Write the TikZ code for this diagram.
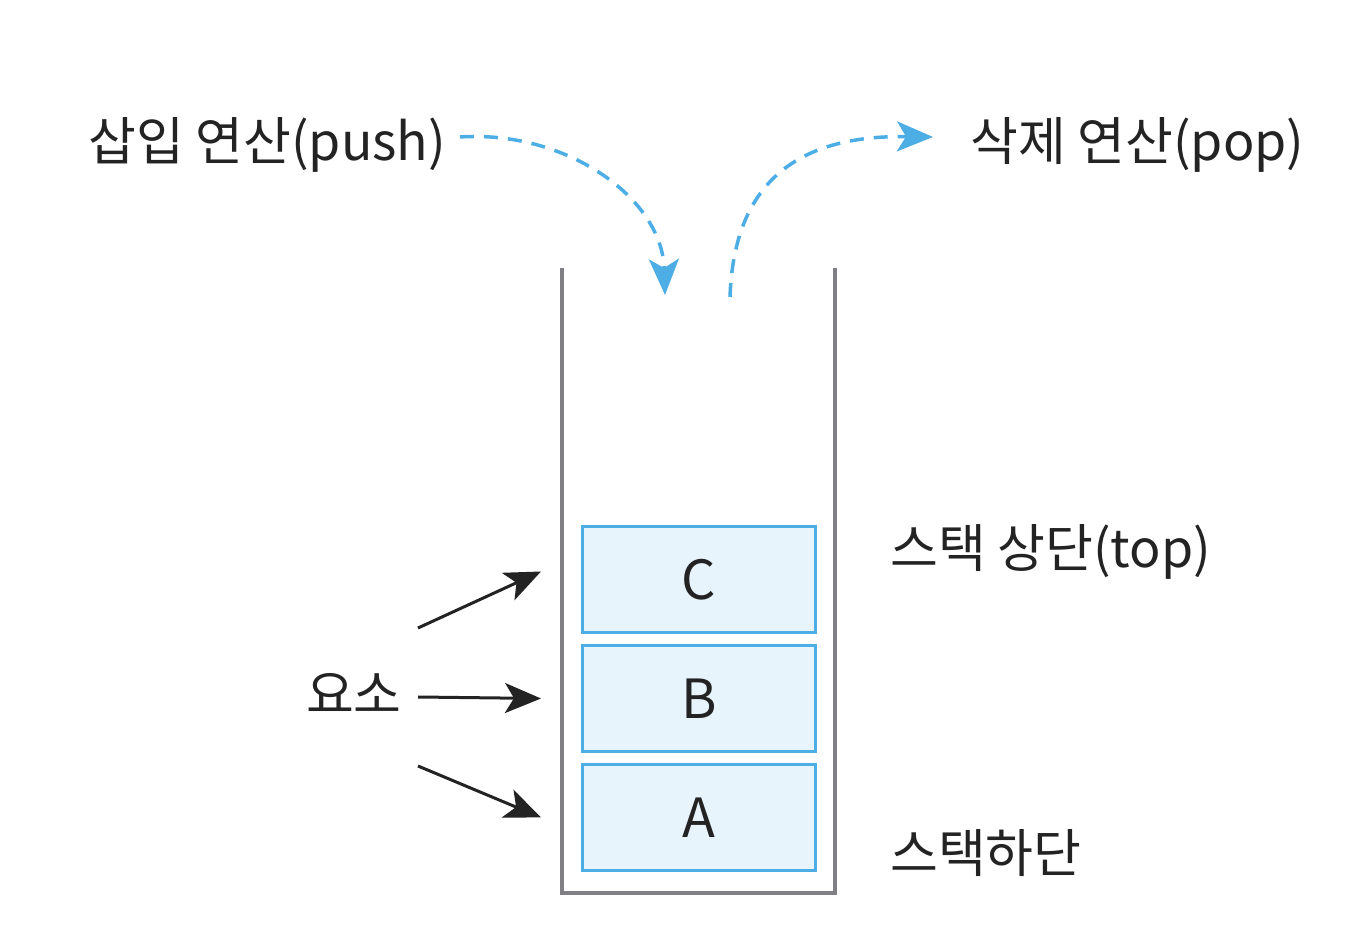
\documentclass[tikz,border=0pt]{standalone}
\usepackage{fontspec}
\setmainfont{Noto Sans CJK KR}
\usetikzlibrary{arrows.meta, positioning, calc}
\definecolor{skyblue}{RGB}{77,174,230}
\definecolor{paleblue}{RGB}{232,244,252}
\definecolor{wallgray}{RGB}{128,128,132}
\definecolor{ink}{RGB}{35,35,35}

\tikzset{
  elem/.style={draw=skyblue, fill=paleblue, line width=3pt, minimum width=233pt, minimum height=106pt, inner sep=0pt, font=\fontsize{54}{60}\selectfont, text=ink},
  lbl/.style={anchor=base west, inner sep=0pt, font=\fontsize{52}{60}\selectfont, text=ink},
  op/.style={skyblue, line width=3.5pt, dash pattern=on 14pt off 10pt, -{Stealth[length=36pt,width=30pt,inset=9pt]}},
  ptr/.style={ink, line width=3pt, -{Stealth[length=36pt,width=30pt,inset=9pt]}}
}

\begin{document}
\begin{tikzpicture}[x=1pt,y=1pt]
\useasboundingbox (0,0) rectangle (1358,932);
% stack walls
\draw[wallgray, line width=4pt] (562,664) -- (562,39) -- (835,39) -- (835,664);
% elements
\node[elem] (C) at (699,352.5) {C};
\node[elem, below=10pt of C] (B) {B};
\node[elem, below=10pt of B] (A) {A};
% labels
\node[lbl] (push) at (88,771) {삽입 연산(push)};
\node[lbl] (pop) at (970,771) {삭제 연산(pop)};
\node[lbl] (top) at (890,364) {스택 상단(top)};
\node[lbl] (bottom) at (890,59) {스택하단};
\node[lbl, anchor=base east] (elemlbl) at (402,218) {요소};
% push / pop
\coordinate (pushout) at (460,795);
\coordinate (pushin) at (665,637);
\coordinate (popout) at (730,635);
\coordinate (popin) at (933,795);
\draw[op] (pushout) .. controls (565,802) and (662,735) .. (pushin);
\draw[op] (popout) .. controls (734,752) and (800,797) .. (popin);
% pointers to the elements
\coordinate (e1) at (418,304);
\coordinate (e2) at (418,235);
\coordinate (e3) at (418,166);
\coordinate (t1) at ($(C.west)+(-40,8)$);
\coordinate (t2) at ($(B.west)+(-40,0)$);
\coordinate (t3) at ($(A.west)+(-40,0)$);
\draw[ptr] (e1) -- (t1);
\draw[ptr] (e2) -- (t2);
\draw[ptr] (e3) -- (t3);
\end{tikzpicture}
\end{document}
